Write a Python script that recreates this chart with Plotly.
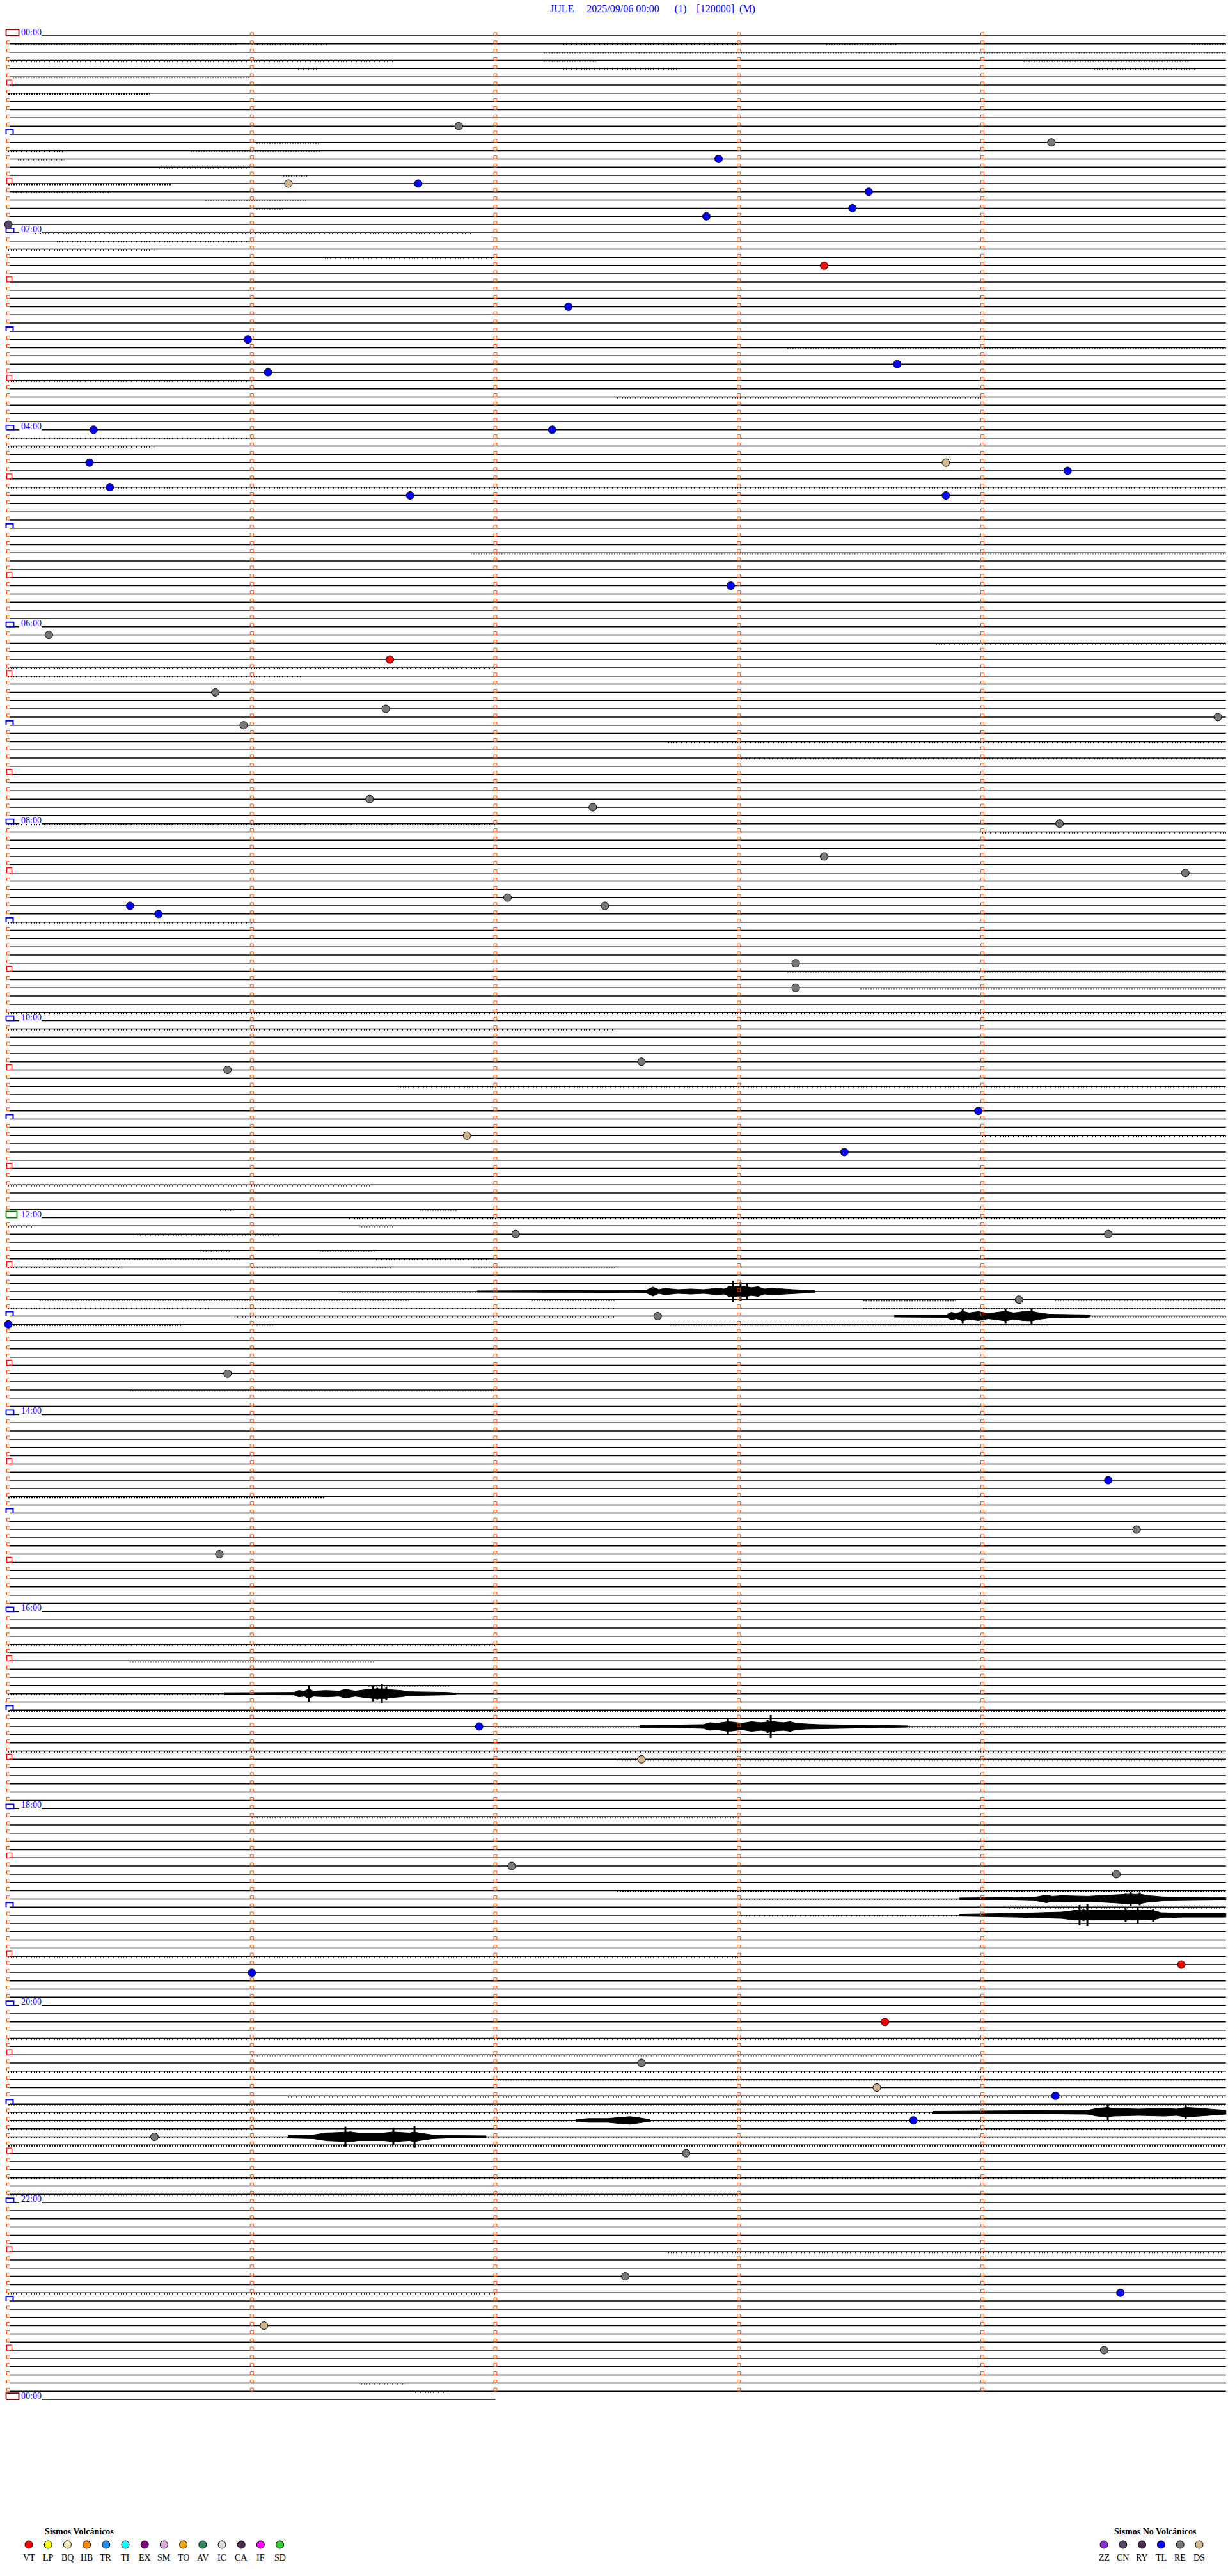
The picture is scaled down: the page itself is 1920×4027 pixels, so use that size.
import plotly.graph_objects as go

# ---------------------------------------------------------------- data
STATION = "JULE"
DATE_TXT = "2025/09/06 00:00"
N_LINES = 288            # 5-minute lines covering 24 h
LINE_MINUTES = 5.0
LAST_LINE_MINUTES = 2.0  # partial closing line (next 00:00)

hour_labels = ["00:00", "02:00", "04:00", "06:00", "08:00", "10:00", "12:00",
               "14:00", "16:00", "18:00", "20:00", "22:00", "00:00"]

event_times = ["00:56:51", "01:09:17", "01:17:55", "01:31:09", "01:31:41", "01:38:32", "01:48:28",
               "01:52:52", "01:55:00", "02:23:21", "02:47:18", "03:05:59", "03:23:39", "03:26:04",
               "04:00:21", "04:02:14", "04:20:20", "04:23:51", "04:29:21", "04:35:25", "04:41:39",
               "04:43:51", "05:37:58", "06:05:10", "06:21:34", "06:40:51", "06:51:33", "07:00:58",
               "06:59:58", "07:46:29", "07:52:24", "08:04:19", "08:23:21", "08:34:50", "08:47:03",
               "08:52:27", "08:50:30", "08:55:37", "09:28:14", "09:43:14", "10:27:36", "10:30:54",
               "10:58:59", "11:11:53", "11:23:26", "12:12:05", "12:14:31", "12:54:09", "13:02:40",
               "13:05:00", "13:35:54", "14:44:31", "15:14:38", "15:25:52", "17:11:56", "17:32:36",
               "18:37:04", "18:44:33", "19:41:00", "19:39:49", "20:13:36", "20:37:36", "20:53:34",
               "20:59:18", "21:13:43", "21:20:36", "21:32:47", "22:47:32", "22:59:34", "23:16:03",
               "23:34:30"]
event_types = ["RE", "RE", "TL", "DS", "TL", "TL", "TL", "TL", "CN", "VT",
               "TL", "TL", "TL", "TL", "TL", "TL", "TL", "DS", "TL", "TL",
               "TL", "TL", "TL", "RE", "VT", "RE", "RE", "RE", "RE", "RE",
               "RE", "RE", "RE", "RE", "RE", "RE", "TL", "TL", "RE", "RE",
               "RE", "RE", "TL", "DS", "TL", "RE", "RE", "RE", "RE", "TL",
               "RE", "TL", "RE", "RE", "TL", "DS", "RE", "RE", "TL", "VT",
               "VT", "RE", "DS", "TL", "TL", "RE", "RE", "RE", "TL", "DS",
               "RE"]

volc_codes = ["VT", "LP", "BQ", "HB", "TR", "TI", "EX", "SM", "TO", "AV", "IC", "CA", "IF", "SD"]
volc_colors = ["#FF0000", "#FFFF00", "#EEE8AA", "#FF8C00", "#1E90FF", "#00FFFF", "#800080",
               "#E0A8E0", "#FFA500", "#2E8B57", "#D8DCDC", "#4B2D4B", "#FF00FF", "#32CD32"]
novolc_codes = ["ZZ", "CN", "RY", "TL", "RE", "DS"]
novolc_colors = ["#8A2BE2", "#5A4468", "#4E2F52", "#0000FF", "#777777", "#D2B48C"]

# noisy stretches of trace: (line, start minute, end minute, level)
noise_segments = [
    (1, 0.03, 0.94, 1), (1, 1.00, 1.31, 1), (1, 2.28, 3.00, 1), (1, 3.36, 3.65, 1), (1, 4.86, 5.0, 1),
    (2, 2.20, 5.0, 1), (3, 0.0, 1.58, 1), (3, 2.20, 2.42, 1), (3, 4.17, 4.85, 1),
    (4, 1.19, 1.27, 1), (4, 2.28, 2.76, 1), (4, 4.46, 4.88, 1), (5, 0.02, 0.99, 1),
    (7, 0.0, 0.58, 2), (13, 1.02, 1.28, 1), (14, 0.0, 0.23, 1), (14, 0.75, 1.28, 1),
    (15, 0.04, 0.23, 1), (16, 0.62, 0.99, 1), (17, 1.13, 1.23, 1), (18, 0.0, 0.67, 2),
    (19, 0.02, 0.43, 1), (20, 0.81, 1.23, 1), (21, 1.02, 1.13, 1),
    (24, 0.1, 1.9, 1), (25, 0.2, 1.0, 1), (26, 0.0, 0.6, 1), (27, 1.3, 2.0, 1),
    (38, 3.2, 5.0, 1), (42, 0.0, 1.0, 1), (44, 2.5, 4.0, 1), (49, 0.0, 1.0, 1), (50, 0.0, 0.6, 1),
    (55, 0.0, 5.0, 1), (63, 1.9, 5.0, 1), (74, 3.8, 5.0, 1), (77, 0.0, 2.0, 1), (78, 0.0, 1.2, 1),
    (86, 2.7, 5.0, 1), (88, 3.0, 5.0, 1), (96, 0.0, 2.0, 1), (97, 4.0, 5.0, 1), (108, 0.0, 1.0, 1),
    (114, 3.2, 5.0, 1), (116, 3.5, 5.0, 1), (119, 0.0, 5.0, 1), (121, 0.0, 2.5, 1),
    (128, 1.6, 5.0, 1), (134, 4.0, 5.0, 1), (140, 0.0, 1.5, 1),
    (143, 0.87, 0.93, 1), (143, 1.69, 1.84, 1), (144, 1.40, 5.0, 1),
    (145, 0.0, 0.10, 1), (145, 1.44, 1.58, 1), (146, 0.53, 1.12, 1),
    (148, 0.79, 0.91, 1), (148, 1.28, 1.51, 1), (149, 0.14, 0.95, 1), (149, 1.51, 1.98, 1),
    (150, 0.0, 0.46, 1), (150, 1.0, 1.57, 1), (150, 1.90, 2.49, 1), (153, 1.37, 1.92, 1),
    (154, 0.13, 1.65, 1), (154, 2.15, 2.49, 1), (154, 3.51, 3.89, 2), (154, 4.30, 5.0, 1),
    (155, 0.0, 0.83, 1), (155, 0.93, 2.49, 1), (155, 3.51, 5.0, 2),
    (156, 0.93, 2.49, 1), (156, 4.44, 5.0, 1),
    (157, 0.0, 0.71, 2), (157, 1.0, 1.09, 1), (157, 2.72, 4.27, 1),
    (165, 0.5, 2.0, 1), (178, 0.0, 1.3, 2), (196, 0.0, 2.0, 1), (198, 0.5, 1.5, 1),
    (201, 1.48, 1.81, 1), (202, 0.0, 0.88, 1), (204, 0.0, 5.0, 2), (206, 2.0, 2.59, 1),
    (206, 3.7, 5.0, 1), (209, 0.0, 5.0, 1), (210, 2.5, 5.0, 1), (217, 1.0, 3.0, 1),
    (226, 2.5, 5.0, 2), (227, 3.0, 3.9, 1), (228, 4.1, 5.0, 1), (229, 3.0, 3.9, 1),
    (234, 0.0, 3.0, 1), (244, 0.0, 5.0, 1), (246, 1.0, 4.0, 1), (248, 0.0, 5.0, 1),
    (249, 2.0, 5.0, 1), (251, 1.15, 5.0, 1), (252, 0.0, 5.0, 2), (253, 0.0, 3.8, 1),
    (254, 0.0, 5.0, 1), (255, 0.0, 1.0, 1), (255, 3.9, 5.0, 1), (256, 0.0, 1.15, 1),
    (256, 1.96, 5.0, 1), (257, 0.0, 5.0, 2), (261, 0.0, 5.0, 1), (263, 0.0, 3.0, 1),
    (270, 2.7, 5.0, 1), (275, 0.0, 2.0, 1), (286, 1.44, 1.63, 1), (287, 1.66, 1.80, 1),
]

# larger wave trains: envelope (minute, half-amplitude in trace units) per line
burst_lines = [153, 156, 202, 206, 227, 229, 253, 254, 256]
burst_minutes = [
    [1.925, 2.461, 2.619, 2.647, 2.671, 2.697, 2.750, 2.802, 2.855, 2.908, 2.939, 2.960, 2.976,
     2.992, 3.007, 3.020, 3.033, 3.052, 3.078, 3.104, 3.144, 3.222, 3.312],
    [3.638, 3.853, 3.872, 3.892, 3.919, 3.945, 3.984, 4.024, 4.063, 4.095, 4.129, 4.168, 4.202,
     4.234, 4.273, 4.431, 4.444],
    [0.885, 1.174, 1.192, 1.216, 1.234, 1.253, 1.305, 1.358, 1.384, 1.424, 1.463, 1.497, 1.515,
     1.534, 1.552, 1.573, 1.613, 1.647, 1.804, 1.838],
    [2.592, 2.750, 2.855, 2.881, 2.908, 2.955, 2.973, 3.012, 3.052, 3.091, 3.118, 3.131, 3.144,
     3.183, 3.210, 3.236, 3.275, 3.328, 3.512, 3.695],
    [3.905, 4.116, 4.221, 4.263, 4.286, 4.326, 4.431, 4.536, 4.588, 4.609, 4.628, 4.646, 4.681,
     4.746, 5.0],
    [3.905, 4.142, 4.326, 4.378, 4.399, 4.415, 4.431, 4.457, 4.536, 4.588, 4.615, 4.638, 4.667,
     4.701, 4.733, 4.825, 5.0],
    [3.795, 4.168, 4.431, 4.470, 4.515, 4.536, 4.641, 4.746, 4.798, 4.835, 4.864, 4.930, 5.0],
    [2.330, 2.382, 2.461, 2.513, 2.553, 2.592, 2.634],
    [1.148, 1.253, 1.305, 1.358, 1.384, 1.405, 1.437, 1.542, 1.581, 1.599, 1.647, 1.668, 1.686,
     1.741, 1.804, 1.962],
]
burst_amplitudes = [
    [1, 1.5, 2, 7, 3, 5, 3, 4, 3, 5, 4, 9, 17, 8, 15, 9, 12, 6, 8, 4, 5, 3, 1.5],
    [1.5, 2, 6, 4, 11, 5, 7, 4, 6, 11, 5, 7, 12, 5, 3, 2, 1],
    [1.5, 2, 5, 4, 13, 4, 5, 4, 7, 4, 6, 12, 9, 15, 10, 6, 5, 3, 2, 1],
    [1.5, 2, 3, 6, 5, 13, 7, 5, 8, 6, 10, 18, 9, 6, 9, 5, 4, 3, 2, 1],
    [1.5, 2, 3, 6, 4, 5, 4, 6, 8, 11, 7, 10, 5, 3, 2],
    [1.5, 3, 5, 8, 16, 9, 17, 8, 7, 11, 8, 13, 7, 10, 4, 3, 3],
    [1.5, 2, 3, 6, 13, 6, 5, 6, 5, 11, 7, 5, 3],
    [1.5, 3, 3, 5, 6, 4, 1.5],
    [2, 3, 6, 7, 16, 8, 6, 6, 14, 7, 6, 17, 6, 3, 2, 1.5],
]

# ---------------------------------------------------------------- geometry / style
W, H = 1920, 4027
X0_PX, PX_PER_MIN = 13.0, 380.75     # pixel of minute 0, pixels per minute
Y0_PX, PX_PER_LINE = 56.0, 12.83     # pixel of first line, pixels per 5-min line
LINE_START_PX, LABEL_END_PX = 15, 65
BODY_CAP_PX = 7.5                    # solid body of a wave train; larger values drawn as spikes
FONT = "Liberation Serif"
SQUARE_COLOR = "#FF5000"


def px_min(px):
    return (px - X0_PX) / PX_PER_MIN


def dl(px):
    return px / PX_PER_LINE


fig = go.Figure()

# baselines
bx, by = [], []
for i in range(N_LINES):
    start = px_min(LABEL_END_PX) if i % 24 == 0 else px_min(LINE_START_PX)
    bx += [start, LINE_MINUTES, None]
    by += [i, i, None]
    if i % 24 == 0 and hour_labels[i // 24] not in ("00:00", "12:00"):
        bx += [px_min(21), px_min(30), None]
        by += [i, i, None]
bx += [px_min(LABEL_END_PX), LAST_LINE_MINUTES]
by += [N_LINES, N_LINES]
fig.add_trace(go.Scatter(x=bx, y=by, mode="lines", line=dict(color="black", width=1.5),
                         hoverinfo="skip"))

# noise (sparse ticks just under the trace)
for lvl, wd, dash in [(1, 2.0, "1px,3px"), (2, 2.5, "2px,2px")]:
    nx, ny = [], []
    for (ln, a, b, lv) in noise_segments:
        if lv != lvl:
            continue
        nx += [a, b, None]
        ny += [ln + dl(1.2), ln + dl(1.2), None]
    fig.add_trace(go.Scatter(x=nx, y=ny, mode="lines",
                             line=dict(color="black", width=wd, dash=dash), hoverinfo="skip"))

# bursts: solid body + spikes
spx, spy = [], []
for ln, mins, amps in zip(burst_lines, burst_minutes, burst_amplitudes):
    body = [min(a, BODY_CAP_PX) for a in amps]
    xs = list(mins) + list(mins[::-1])
    ys = [ln - dl(a) for a in body] + [ln + dl(a) for a in body[::-1]]
    fig.add_trace(go.Scatter(x=xs, y=ys, mode="lines", fill="toself", fillcolor="black",
                             line=dict(color="black", width=1), hoverinfo="skip"))
    for m, a in zip(mins, amps):
        if a > BODY_CAP_PX:
            spx += [m, m, None]
            spy += [ln - dl(a), ln + dl(a), None]
fig.add_trace(go.Scatter(x=spx, y=spy, mode="lines", line=dict(color="black", width=3),
                         hoverinfo="skip"))

# minute squares
sx, sy = [], []
for i in range(N_LINES):
    for k in range(int(LINE_MINUTES)):
        if k == 0 and i % 6 == 0:
            continue
        sx.append(k)
        sy.append(i - dl(2.5))
fig.add_trace(go.Scatter(x=sx, y=sy, mode="markers",
                         marker=dict(symbol="square-open", size=5, color=SQUARE_COLOR,
                                     line=dict(width=1, color=SQUARE_COLOR)),
                         hoverinfo="skip"))

# half-hour red squares
hx = [px_min(14.5)] * (N_LINES // 12)
hy = [i - dl(4) for i in range(6, N_LINES, 12)]
fig.add_trace(go.Scatter(x=hx, y=hy, mode="markers",
                         marker=dict(symbol="square-open", size=8, color="#FF0000",
                                     line=dict(width=1.2, color="#FF0000")),
                         hoverinfo="skip"))

# odd-hour blue brackets
ox, oy = [], []
for i in range(12, N_LINES, 24):
    ox += [px_min(9.5), px_min(9.5), px_min(20.5), px_min(20.5), None]
    oy += [i, i - dl(7), i - dl(7), i, None]
fig.add_trace(go.Scatter(x=ox, y=oy, mode="lines", line=dict(color="#0000FF", width=2),
                         hoverinfo="skip"))

# even-hour label boxes and labels
annotations = []
for j, lab in enumerate(hour_labels):
    i = j * 24
    if lab == "00:00":
        col, bw, bh = "#8B0000", 20, 10
    elif lab == "12:00":
        col, bw, bh = "#008000", 17, 10
    else:
        col, bw, bh = "#0000FF", 12, 7
    x_l, x_r = px_min(9.5), px_min(9.5 + bw)
    fig.add_trace(go.Scatter(x=[x_l, x_l, x_r, x_r, x_l], y=[i, i - dl(bh), i - dl(bh), i, i],
                             mode="lines", line=dict(color=col, width=1.8), hoverinfo="skip"))
    annotations.append(dict(x=px_min(31), y=i - dl(5.5), xref="x", yref="y", text=lab,
                            showarrow=False, xanchor="left", yanchor="middle",
                            font=dict(family=FONT, size=14, color="#0000FF")))

# events
type_color = dict(zip(volc_codes + novolc_codes, volc_colors + novolc_colors))
ev_x, ev_y = {}, {}
for t, typ in zip(event_times, event_types):
    h, m, s = (int(v) for v in t.split(":"))
    sec = h * 3600 + m * 60 + s
    ev_x.setdefault(typ, []).append((sec % 300) / 60.0)
    ev_y.setdefault(typ, []).append(sec // 300)
for typ in ev_x:
    fig.add_trace(go.Scatter(x=ev_x[typ], y=ev_y[typ], mode="markers",
                             marker=dict(size=12, color=type_color[typ],
                                         line=dict(color="black", width=1)),
                             hoverinfo="skip"))

# ---------------------------------------------------------------- legend (pixel layout axes)
VOLC_X0, VOLC_STEP = 45, 30.2
NOVOLC_X0, NOVOLC_STEP = 1726, 29.8
LEG_TITLE_Y, LEG_MARK_Y, LEG_LABEL_Y = 3957, 3978, 3998

vx = [VOLC_X0 + VOLC_STEP * k for k in range(len(volc_codes))]
nvx = [NOVOLC_X0 + NOVOLC_STEP * k for k in range(len(novolc_codes))]
fig.add_trace(go.Scatter(x=vx + nvx, y=[LEG_MARK_Y] * (len(vx) + len(nvx)), mode="markers",
                         xaxis="x2", yaxis="y2",
                         marker=dict(size=12, color=volc_colors + novolc_colors,
                                     line=dict(color="black", width=1)),
                         hoverinfo="skip"))
for x, code in zip(vx + nvx, volc_codes + novolc_codes):
    annotations.append(dict(x=x, y=LEG_LABEL_Y, xref="x2", yref="y2", text=code, showarrow=False,
                            xanchor="center", yanchor="middle",
                            font=dict(family=FONT, size=14, color="black")))
annotations.append(dict(x=124, y=LEG_TITLE_Y, xref="x2", yref="y2", text="<b>Sismos Volcánicos</b>",
                        showarrow=False, xanchor="center", yanchor="middle",
                        font=dict(family=FONT, size=14, color="black")))
annotations.append(dict(x=1806, y=LEG_TITLE_Y, xref="x2", yref="y2",
                        text="<b>Sismos No Volcánicos</b>", showarrow=False,
                        xanchor="center", yanchor="middle",
                        font=dict(family=FONT, size=14, color="black")))

sp = "\u00a0"
title = (STATION + sp * 5 + DATE_TXT + sp * 6 + "(1)" + sp * 4 + "[120000]" + sp * 2 + "(M)")
annotations.append(dict(x=1020, y=14, xref="x2", yref="y2", text=title, showarrow=False,
                        xanchor="center", yanchor="middle",
                        font=dict(family=FONT, size=16, color="#0000FF")))

fig.update_layout(
    width=W, height=H, margin=dict(l=0, r=0, t=0, b=0),
    paper_bgcolor="white", plot_bgcolor="white", showlegend=False,
    xaxis=dict(range=[px_min(0), px_min(W)], visible=False, fixedrange=True),
    yaxis=dict(range=[(H - Y0_PX) / PX_PER_LINE, (0 - Y0_PX) / PX_PER_LINE], visible=False,
               fixedrange=True),
    xaxis2=dict(range=[0, W], overlaying="x", anchor="y2", visible=False, fixedrange=True),
    yaxis2=dict(range=[H, 0], overlaying="y", anchor="x2", visible=False, fixedrange=True),
    annotations=annotations,
)

fig.write_html("out.html", config={"displayModeBar": False},
               post_script="document.body.style.margin='0';document.body.style.overflow='hidden';")
